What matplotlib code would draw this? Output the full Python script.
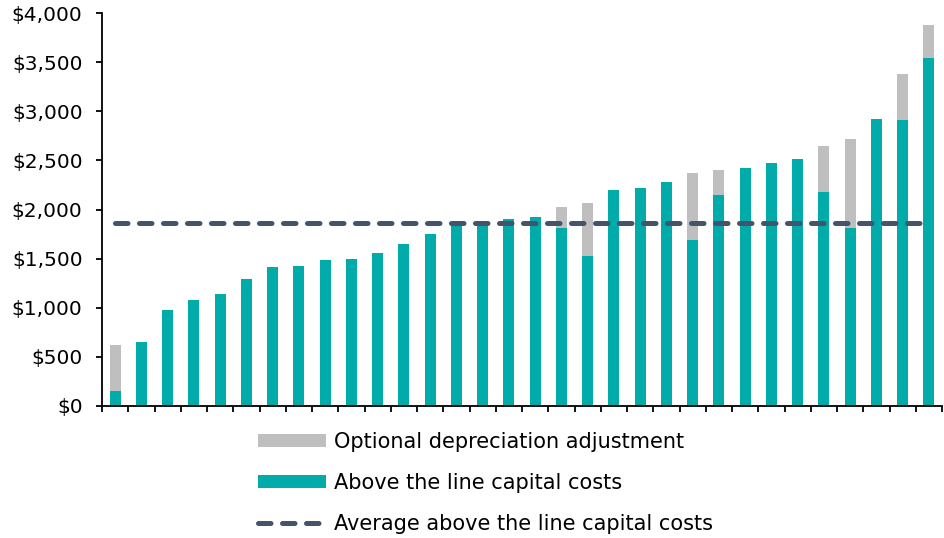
import matplotlib.pyplot as plt
import numpy as np
from matplotlib.patches import Patch
from matplotlib.lines import Line2D
from matplotlib.ticker import FuncFormatter

# above the line capital costs per item (sorted as in the chart)
capital = [150, 650, 975, 1075, 1140, 1295, 1415, 1425, 1490, 1495,
           1560, 1645, 1750, 1850, 1850, 1905, 1925, 1812, 1530, 2200,
           2215, 2278, 1690, 2145, 2423, 2474, 2514, 2175, 1815, 2922,
           2908, 3546]
# optional depreciation adjustment stacked on top
depreciation = [470, 0, 0, 0, 0, 0, 0, 0, 0, 0,
                0, 0, 0, 0, 0, 0, 0, 218, 540, 0,
                0, 0, 682, 254, 0, 0, 0, 469, 900, 0,
                469, 332]
average = 1860

teal = "#00ABAA"
grey = "#BFBFBF"
navy = "#44546A"

plt.rcParams['font.family'] = ['DejaVu Sans']
plt.rcParams['font.size'] = 14

fig = plt.figure(figsize=(9.44, 5.38), dpi=100)
ax = fig.add_axes([102 / 944, 1 - 406 / 538, 840 / 944, 393 / 538])

x = np.arange(len(capital))
ax.bar(x, capital, width=0.41, color=teal, zorder=2)
ax.bar(x, depreciation, width=0.41, bottom=capital, color=grey, zorder=2)
ax.plot(x, [average] * len(x), color=navy, linewidth=3.6,
        linestyle=(0, (2.5, 2.3)), dash_capstyle='round', zorder=3)

ax.set_xlim(-0.5, len(x) - 0.5)
ax.set_ylim(0, 4000)
ax.set_yticks(np.arange(0, 4001, 500))
ax.yaxis.set_major_formatter(FuncFormatter(lambda v, p: "${:,.0f}".format(v)))
ax.set_xticks(np.arange(-0.5, len(x) + 0.5, 1))
ax.set_xticklabels([])

for s in ['top', 'right']:
    ax.spines[s].set_visible(False)
for s in ['left', 'bottom']:
    ax.spines[s].set_linewidth(1.3)
ax.tick_params(axis='both', direction='out', length=4, width=1.3, colors='black')
ax.tick_params(axis='y', pad=10, labelsize=14.5)

handles = [
    Patch(facecolor=grey, edgecolor='none'),
    Patch(facecolor=teal, edgecolor='none'),
    Line2D([0], [0], color=navy, linewidth=3.6, linestyle=(0, (2.5, 2.3)),
           dash_capstyle='round'),
]
labels = ["Optional depreciation adjustment",
          "Above the line capital costs",
          "Average above the line capital costs"]
fig.legend(handles, labels, loc='upper left', bbox_to_anchor=(258 / 944, 1 - 432 / 538),
           frameon=False, borderpad=0, borderaxespad=0, fontsize=15,
           handlelength=3.27, handleheight=0.53, handletextpad=0.4,
           labelspacing=1.0)

fig.savefig("out.png", dpi=100)
